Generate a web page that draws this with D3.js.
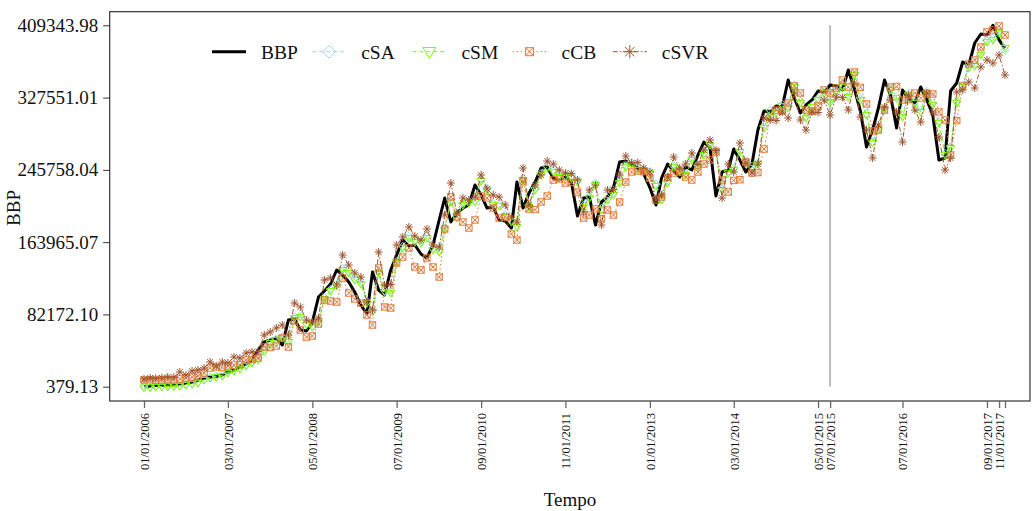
<!DOCTYPE html>
<html><head><meta charset="utf-8">
<script src="https://cdn.jsdelivr.net/npm/d3@7"></script>
<style>
html,body{margin:0;padding:0;background:#fff;}
svg{display:block;font-family:"Liberation Serif","Times New Roman",serif;}
</style></head>
<body>
<svg id="chart" width="1033" height="511"></svg>
<script>
// ---- data ----
const startMonth = "2006-01-01";
const endMonth = "2017-12-01";
const BBP = [379.13,1170,1740,1960,2300,2530,3435,4566,5698,7961,10224,11356,11922,13619,17014,19277,22672,26067,30593,41909,50962,53225,55488,47567,75857,76989,64541,63409,73594,101884,108674,116595,132437,126779,118858,107542,92831,82647,130174,109805,104147,132437,149411,166385,159595,160727,150543,146016,160727,189017,213912,186754,196939,202596,205991,228597,217307,202596,203728,189017,187886,179964,232018,202596,219386,232018,247860,248991,236544,234281,237676,232018,193544,213912,215044,183359,209386,215044,225702,254651,255782,252388,247860,241070,225702,205991,236544,252388,244465,237676,248991,245597,262571,277282,270492,216175,243334,245597,269360,256913,243334,252388,290861,312361,311230,318019,316888,347441,327072,310098,319151,324809,334993,333862,341783,340652,336125,358757,337257,312361,271624,290861,315756,347441,330467,293124,336125,325941,321414,339520,324809,307835,256913,259176,334993,344046,367809,364414,389310,399494,398363,409343.98,392705,383652];
const cSA = [200,300,500,700,1100,1300,1800,2900,4100,5400,8600,11000,12300,13500,16900,19300,21600,25100,28500,32200,41800,51200,54600,56900,52800,79300,80600,71900,69100,75200,101500,110300,116000,134200,130500,122900,118300,96800,86900,130800,109000,108300,142100,159300,170500,165900,164800,170400,157000,154600,179800,211200,193100,207900,210100,211200,235000,224900,207900,206700,194400,188600,183000,236100,205600,224800,241700,249700,245200,239500,239500,238400,233900,205600,215800,230400,202200,213500,219200,232700,250800,254200,247400,246300,244000,229300,213500,232700,250800,245200,241800,258700,250800,264400,275700,267800,224800,244000,247400,267800,256500,249700,254200,295000,313100,311900,319800,317600,341300,323200,306200,318700,326600,334500,323200,335700,341300,330000,354900,326600,309600,278000,292700,315300,337900,328900,307400,332300,323200,313000,334500,321000,300600,264400,272300,323200,341300,362800,365100,377500,392200,394500,402400,381000];
const cSM = [-600,-550,40,100,600,650,1171,2303,3435,4566,7961,10224,11356,12487,15882,18145,20408,23803,27198,30593,39646,49830,53225,55488,50962,78120,79252,70199,67936,73594,99621,108674,114332,132437,129042,121121,116595,95094,84910,129042,107542,106410,140358,157332,168648,164122,162990,168648,155069,152806,177701,209386,191280,205991,208254,209386,233149,222965,205991,204860,192412,186754,181096,234281,203728,222965,239939,247860,243334,237676,237676,236544,232018,203728,213912,228597,200333,211649,217307,230886,248991,252388,245597,244465,242202,227465,211649,230886,248991,243334,239939,256913,248991,262571,273887,265966,222965,242202,245597,265966,254651,247860,252388,293124,311230,310098,318019,315756,339520,321414,304440,316888,324809,332730,321414,333862,339520,328204,353094,324809,307835,276150,290861,313493,336125,327072,305572,330467,321414,311230,332730,319151,298782,262571,270492,321414,339520,361020,363283,375731,390442,392705,400626,383652];
const cCB = [7961,8300,7700,8100,8500,8200,9093,10224,11356,12487,15882,21540,22672,22100,23803,24935,25400,30593,31000,32856,45304,44800,46435,55488,45304,74725,64541,56620,57751,71330,98489,97357,96226,123384,106410,99621,95094,81515,70199,134700,90568,89436,140358,147148,157332,135832,132437,146016,135832,124516,178833,215044,192412,186754,179964,189017,216175,213912,202596,191280,192412,173175,166385,233149,201465,200800,209386,216175,234281,235413,230886,231500,220702,191280,194675,201465,190600,200333,194675,209386,232018,243334,244465,243900,236544,211649,215044,237000,242202,243334,237676,234281,243334,252388,256913,265966,234281,220702,233800,234600,254651,242202,242700,269360,305572,313493,312361,321414,340652,332730,313493,312361,318019,336125,332730,338388,347441,339520,356494,339000,320283,289729,290861,313493,339520,340100,324809,325300,332730,327072,332200,331599,311230,302177,262571,301500,340652,365546,370073,384784,401758,404021,408547,398363];
const cSVR = [9093,10224,9900,10500,11356,11000,17014,13619,18145,19277,21540,28330,23803,28330,27198,33988,32856,38514,39646,40100,58883,62278,66805,70199,58883,95094,90568,75857,73594,78120,121121,123384,115463,149411,138095,129042,124516,96226,87173,152806,115463,116000,160727,169780,181096,170911,166385,178833,160727,158464,194675,230886,196939,213912,211649,215044,239939,224096,217307,215044,205991,192412,186754,247860,205991,228597,239939,255782,252388,245597,242202,241600,234281,198070,222965,228597,183359,222965,223500,239939,261439,253519,254000,247860,243334,211649,217307,237676,260308,247860,252388,264834,251800,268229,279545,267700,213912,252388,243334,276150,253519,242202,252388,304440,302177,301600,311230,304440,332730,302177,290861,311230,310700,324809,307835,328204,327700,313493,343862,305572,290861,259176,296522,316888,324809,311230,277282,330467,313493,299914,332730,311230,282940,245597,259176,333862,336125,345178,338388,362152,370073,366678,375731,353094];
const yTickValues = [379.13,82172.10,163965.07,245758.04,327551.01,409343.98];
const xTickDates = ["2006-01-01","2007-03-01","2008-05-01","2009-07-01","2010-09-01","2011-11-01","2013-01-01","2014-03-01","2015-05-01","2015-07-01","2016-07-01","2017-09-01","2017-11-01","2017-12-01"];
const xTickLabels = ["01/01/2006","03/01/2007","05/01/2008","07/01/2009","09/01/2010","11/01/2011","01/01/2013","03/01/2014","05/01/2015","07/01/2015","07/01/2016","09/01/2017","11/01/2017",""];
const splitDate = "2015-07-01";
const seriesNames = ["BBP","cSA","cSM","cCB","cSVR"];

// ---- setup ----
const svg = d3.select("#chart");
const parse = d3.utcParse("%Y-%m-%d");
const months = d3.utcMonth.range(parse(startMonth), d3.utcMonth.offset(parse(endMonth), 1));
const box = {l:109.7, t:11.7, r:1030, b:401};
const x = d3.scaleUtc().domain([parse(startMonth), parse(endMonth)]).range([144, 1005]);
const y = d3.scaleLinear().domain([379.13, 409343.98]).range([386.7, 25.3]);

const styles = {
  BBP:  {color:"#000000", width:3, dash:null, marker:null},
  cSA:  {color:"#98D8EC", width:1, dash:"4,3", marker:"diamond"},
  cSM:  {color:"#7CFC00", width:1, dash:"4,3", marker:"tri"},
  cCB:  {color:"#E07A3A", width:1, dash:"1.5,2.5", marker:"sqx"},
  cSVR: {color:"#A0552F", width:1, dash:"5,2,1.5,2", marker:"ast"}
};
const dataMap = {BBP, cSA, cSM, cCB, cSVR};

function drawMarker(g, type, cx, cy, s, color){
  const m = g.append("g").attr("transform",`translate(${cx},${cy})`)
    .attr("fill","none").attr("stroke",color).attr("stroke-width",1);
  if(type==="diamond"){
    m.append("path").attr("d",`M0,${-s}L${s},0L0,${s}L${-s},0Z`);
  } else if(type==="tri"){
    m.append("path").attr("d",`M${-s},${-s*0.65}L${s},${-s*0.65}L0,${s*1.05}Z`);
  } else if(type==="sqx"){
    const q=s*0.8;
    m.append("rect").attr("x",-q).attr("y",-q).attr("width",2*q).attr("height",2*q);
    m.append("path").attr("d",`M${-q},${-q}L${q},${q}M${-q},${q}L${q},${-q}`);
  } else if(type==="ast"){
    const d=s*0.72;
    m.append("path").attr("d",`M0,${-s}V${s}M${-s},0H${s}M${-d},${-d}L${d},${d}M${-d},${d}L${d},${-d}`);
  }
}

// split line
svg.append("line")
  .attr("x1",x(parse(splitDate))).attr("x2",x(parse(splitDate)))
  .attr("y1",y(409343.98)).attr("y2",y(379.13))
  .attr("stroke","#bdbdbd").attr("stroke-width",2);

// series
seriesNames.forEach(name=>{
  const st = styles[name];
  const vals = dataMap[name];
  const line = d3.line().x((d,i)=>x(months[i])).y(d=>y(d));
  svg.append("path").datum(vals)
    .attr("d",line).attr("fill","none")
    .attr("stroke",st.color).attr("stroke-width",st.width)
    .attr("stroke-linejoin","round")
    .attr("stroke-dasharray",st.dash);
  if(st.marker){
    const g = svg.append("g");
    vals.forEach((v,i)=>drawMarker(g, st.marker, x(months[i]), y(v), st.marker==="sqx"?4:4, st.color));
  }
});

// box
svg.append("rect").attr("x",box.l).attr("y",box.t)
  .attr("width",box.r-box.l).attr("height",box.b-box.t)
  .attr("fill","none").attr("stroke","#333").attr("stroke-width",1.2);

// y axis
const yAxis = d3.axisLeft(y).tickValues(yTickValues).tickFormat(d3.format(".2f")).tickSize(6.5).tickPadding(5);
const gy = svg.append("g").attr("transform",`translate(${box.l},0)`).call(yAxis);
gy.select(".domain").remove();
gy.selectAll(".tick line").attr("stroke","#333");
gy.selectAll("text").attr("font-size",19).attr("fill","#111").style("font-family","Liberation Serif");

// x axis
const xAxis = d3.axisBottom(x).tickValues(xTickDates.map(parse))
  .tickFormat((d,i)=>xTickLabels[i]).tickSize(7).tickPadding(4);
const gx = svg.append("g").attr("transform",`translate(0,${box.b})`).call(xAxis);
gx.select(".domain").remove();
gx.selectAll(".tick line").attr("stroke","#666").attr("stroke-width",1.3);
gx.selectAll("text")
  .attr("font-size",12.5).attr("fill","#111").style("font-family","Liberation Serif")
  .attr("transform","rotate(-90)")
  .attr("text-anchor","end")
  .attr("x",-12).attr("y",0).attr("dy","0.35em");

// axis titles
svg.append("text").attr("x",570).attr("y",506).attr("text-anchor","middle")
  .attr("font-size",19).attr("fill","#111").text("Tempo");
svg.append("text").attr("transform","translate(20,208) rotate(-90)").attr("text-anchor","middle")
  .attr("font-size",19).attr("fill","#111").text("BBP");

// legend
const lg = svg.append("g");
seriesNames.forEach((name,i)=>{
  const st = styles[name];
  const x0 = 212 + i*100.2;
  const ly = 51.7;
  lg.append("line").attr("x1",x0).attr("x2",x0+34).attr("y1",ly).attr("y2",ly)
    .attr("stroke",st.color).attr("stroke-width",st.width)
    .attr("stroke-dasharray",st.dash);
  if(st.marker) drawMarker(lg, st.marker, x0+17, ly, st.marker==="sqx"?5:6.5, st.color);
  lg.append("text").attr("x",x0+49).attr("y",59).attr("font-size",19.5).attr("fill","#111").text(name);
});
</script>
</body></html>
